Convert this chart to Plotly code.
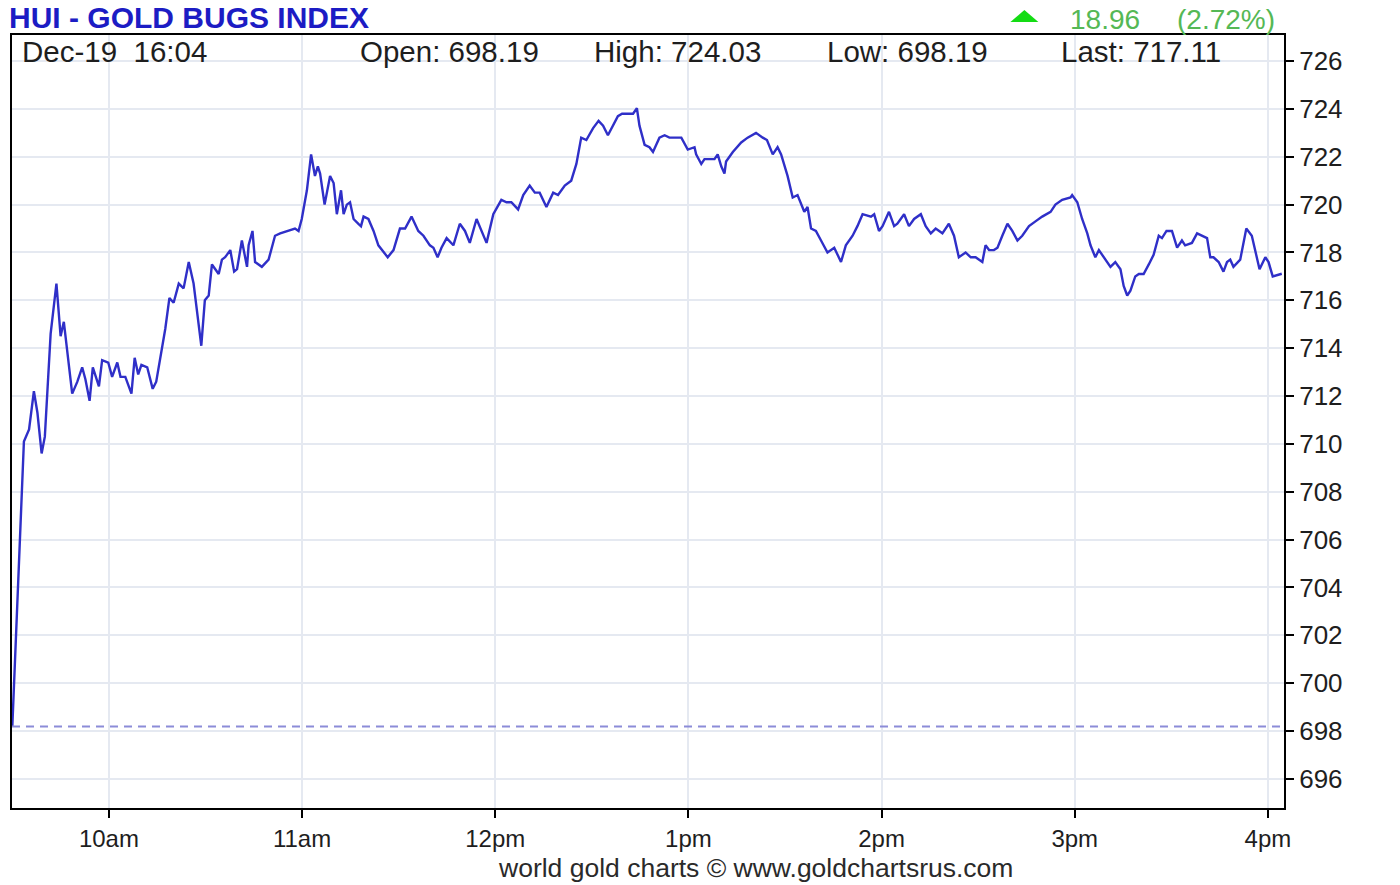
import plotly.graph_objects as go

# ---- data ----
minutes_since_open = [
    0, 3.6, 5.2, 6.7, 7.8, 9.1, 10.1, 11.9, 13.7, 15.0, 16.0, 17.1, 18.6, 20.2, 21.7, 22.7, 24.0, 25.0,
    26.9, 27.9, 29.8, 31.0, 32.6, 33.6, 35.1, 37.0, 38.0, 39.1, 40.1, 41.9, 43.6, 44.7, 47.5, 48.8,
    50.1, 51.7, 53.2, 54.8, 56.3, 58.7, 59.8, 61.0, 62.0, 64.1, 65.1, 66.1, 67.7, 68.9, 69.8, 71.3,
    72.9, 73.4, 74.6, 75.4, 77.5, 79.6, 81.6, 83.2, 85.8, 87.8, 88.9, 89.9, 91.5, 92.8, 94.0, 94.9,
    95.6, 97.0, 98.7, 99.8, 100.8, 102.1, 102.9, 103.9, 104.9, 106.0, 107.5, 108.3, 109.1, 110.6,
    112.2, 113.7, 116.6, 118.4, 120.4, 122.0, 124.0, 126.1, 127.7, 129.7, 130.8, 132.1, 133.3, 134.9,
    137.0, 139.0, 140.6, 142.1, 144.2, 145.7, 147.3, 149.4, 151.9, 153.5, 155.0, 157.1, 158.7, 160.7,
    162.3, 163.8, 165.9, 168.0, 169.5, 171.6, 173.6, 175.2, 176.7, 178.3, 180.4, 182.1, 183.5, 185.0,
    186.6, 188.1, 189.4, 191.2, 192.8, 194.0, 194.8, 196.4, 197.9, 199.0, 201.0, 202.6, 204.1, 205.7,
    207.8, 209.8, 211.9, 212.4, 214.0, 215.0, 216.5, 218.1, 219.1, 220.2, 221.2, 221.7, 223.8, 226.4,
    228.4, 231.0, 233.1, 234.4, 236.2, 237.7, 238.8, 240.8, 242.4, 243.9, 246.0, 247.0, 248.1, 249.6,
    251.2, 253.2, 255.3, 257.4, 258.9, 261.0, 262.5, 264.1, 266.7, 267.7, 269.2, 270.3, 272.3, 273.9,
    274.9, 277.0, 278.5, 280.1, 282.2, 283.7, 285.3, 286.8, 288.9, 290.9, 292.5, 294.0, 296.1, 297.7,
    299.2, 301.3, 302.3, 303.4, 304.9, 306.0, 307.5, 309.1, 310.6, 312.2, 313.7, 315.8, 317.8, 319.9,
    322.5, 324.0, 326.1, 328.7, 329.2, 330.8, 332.3, 333.9, 334.9, 336.4, 337.5, 338.5, 340.1, 341.1,
    342.6, 344.2, 345.2, 346.3, 347.3, 348.8, 349.9, 351.4, 353.0, 354.5, 356.1, 357.1, 358.5, 360.2,
    361.8, 363.3, 364.3, 366.4, 368.0, 369.5, 371.1, 372.1, 373.1, 374.7, 376.2, 377.3, 378.3, 379.3,
    381.4, 383.3, 385.0, 387.4, 389.2, 390.2, 391.5, 394.3,
]
hui_values = [
    698.19, 710.1, 710.6, 712.2, 711.3, 709.6, 710.3, 714.6, 716.7, 714.5, 715.1, 713.9, 712.1, 712.6, 713.2, 712.7, 711.8, 713.2,
    712.4, 713.5, 713.4, 712.8, 713.4, 712.8, 712.8, 712.1, 713.6, 712.9, 713.3, 713.2, 712.3, 712.6, 714.8, 716.1,
    715.9, 716.7, 716.5, 717.6, 716.7, 714.1, 716.0, 716.2, 717.5, 717.1, 717.7, 717.8, 718.1, 717.2, 717.3, 718.5,
    717.4, 718.3, 718.9, 717.6, 717.4, 717.7, 718.7, 718.8, 718.9, 719.0, 718.9, 719.4, 720.6, 722.1, 721.2, 721.6,
    721.3, 720.0, 721.2, 720.9, 719.6, 720.6, 719.6, 720.0, 720.1, 719.4, 719.2, 719.1, 719.5, 719.4,
    718.9, 718.3, 717.8, 718.1, 719.0, 719.0, 719.5, 718.9, 718.7, 718.3, 718.2, 717.8, 718.2, 718.6,
    718.3, 719.2, 718.9, 718.4, 719.4, 718.9, 718.4, 719.6, 720.2, 720.1, 720.1, 719.8, 720.4, 720.8,
    720.5, 720.5, 719.9, 720.5, 720.4, 720.8, 721.0, 721.7, 722.8, 722.7, 723.2, 723.5, 723.3, 722.9,
    723.3, 723.7, 723.8, 723.8, 723.8, 724.03, 723.3, 722.5, 722.4, 722.2, 722.8, 722.9, 722.8, 722.8,
    722.8, 722.3, 722.4, 722.1, 721.7, 721.9, 721.9, 721.9, 722.1, 721.6, 721.3, 721.8, 722.2, 722.6,
    722.8, 723.0, 722.8, 722.7, 722.1, 722.4, 722.1, 721.2, 720.3, 720.4, 719.7, 719.9, 719.0, 718.9,
    718.5, 718.0, 718.2, 717.6, 718.3, 718.7, 719.1, 719.6, 719.5, 719.6, 718.9, 719.1, 719.7, 719.1,
    719.2, 719.6, 719.1, 719.4, 719.6, 719.1, 718.8, 719.0, 718.8, 719.2, 718.7, 717.8, 718.0, 717.8,
    717.8, 717.6, 718.3, 718.1, 718.1, 718.2, 718.7, 719.2, 718.9, 718.5, 718.7, 719.1, 719.3, 719.5,
    719.7, 720.0, 720.2, 720.3, 720.4, 720.1, 719.4, 718.8, 718.3, 717.8, 718.1, 717.9, 717.6, 717.4,
    717.6, 717.3, 716.6, 716.2, 716.4, 717.0, 717.1, 717.1, 717.5, 717.9, 718.7, 718.6, 718.9, 718.9,
    718.2, 718.5, 718.3, 718.4, 718.8, 718.7, 718.6, 717.8, 717.8, 717.6, 717.2, 717.6, 717.7, 717.4,
    717.7, 719.0, 718.7, 717.3, 717.8, 717.6, 717.0, 717.11,
]
hour_ticks = [30, 90, 150, 210, 270, 330, 390]
hour_labels = ["10am", "11am", "12pm", "1pm", "2pm", "3pm", "4pm"]
y_ticks = list(range(696, 727, 2))

title_text = "HUI - GOLD BUGS INDEX"
stamp_text = "Dec-19\u00a0 16:04"
open_val, high_val, low_val, last_val = 698.19, 724.03, 698.19, 717.11
change_val, change_pct = 18.96, 2.72
footer_text = "world gold charts \u00a9 www.goldchartsrus.com"

# ---- figure ----
FONT = "Liberation Sans, Arial, sans-serif"
fig = go.Figure()
fig.add_trace(go.Scatter(
    x=minutes_since_open, y=hui_values, mode="lines",
    line=dict(color="#2f2fc8", width=2.4), hoverinfo="skip", showlegend=False,
))

fig.add_shape(type="line", xref="paper", yref="y", x0=0, x1=1, y0=open_val, y1=open_val,
              line=dict(color="#8c8cd8", width=2, dash="8px,6px"), layer="above")

# green up triangle
fig.add_shape(type="path", xref="paper", yref="paper",
              path="M 0.7849 1.0168 L 0.8069 1.0168 L 0.7959 1.0323 Z",
              fillcolor="#14dc14", line=dict(width=0))

ann = []
ann.append(dict(text=title_text, xref="paper", yref="paper", x=-0.004, y=1.0225,
                xanchor="left", yanchor="middle", showarrow=False,
                font=dict(family=FONT, size=30, color="#1c1cc4", weight="bold")))
ann.append(dict(text=f"{change_val:.2f}", xref="paper", yref="paper", x=0.830, y=1.0195,
                xanchor="left", yanchor="middle", showarrow=False,
                font=dict(family=FONT, size=28, color="#55b855")))
ann.append(dict(text=f"({change_pct:.2f}%)", xref="paper", yref="paper", x=0.914, y=1.0195,
                xanchor="left", yanchor="middle", showarrow=False,
                font=dict(family=FONT, size=28, color="#55b855")))
header = [
    (stamp_text, 0.0065),
    (f"Open: {open_val:.2f}", 0.272),
    (f"High: {high_val:.2f}", 0.456),
    (f"Low: {low_val:.2f}", 0.639),
    (f"Last: {last_val:.2f}", 0.823),
]
for txt, xp in header:
    ann.append(dict(text=txt, xref="paper", yref="paper", x=xp, y=0.9793,
                    xanchor="left", yanchor="middle", showarrow=False,
                    font=dict(family=FONT, size=29.5, color="#1e1e1e")))
ann.append(dict(text=footer_text, xref="paper", yref="paper", x=0.5848, y=-0.0776,
                xanchor="center", yanchor="middle", showarrow=False,
                font=dict(family=FONT, size=26.5, color="#2a2a2a")))

fig.update_layout(
    width=1400, height=885,
    margin=dict(l=10, r=116, t=35, b=77),
    paper_bgcolor="white", plot_bgcolor="white",
    annotations=ann,
    showlegend=False,
)
fig.update_xaxes(
    range=[-0.1, 395], tickmode="array", tickvals=hour_ticks, ticktext=hour_labels,
    showgrid=True, gridcolor="#e5e9f1", gridwidth=1.5, zeroline=False,
    showline=True, linecolor="black", linewidth=2, mirror=True,
    ticks="outside", ticklen=8, tickwidth=2, tickcolor="black",
    tickfont=dict(family=FONT, size=24, color="#1e1e1e"),
)
fig.update_yaxes(
    side="right", range=[694.78, 727.09], tickmode="array", tickvals=y_ticks,
    ticktext=[str(v) for v in y_ticks],
    showgrid=True, gridcolor="#e5e9f1", gridwidth=1.5, zeroline=False,
    showline=True, linecolor="black", linewidth=2, mirror=True,
    ticks="outside", ticklen=8, tickwidth=2, tickcolor="black",
    tickfont=dict(family=FONT, size=26, color="#1e1e1e"),
)

# remove the default 8px page margin so the figure sits at the window's top-left corner
fig.write_html("out.html", config={"displayModeBar": False},
               post_script="document.body.style.margin='0px';")
